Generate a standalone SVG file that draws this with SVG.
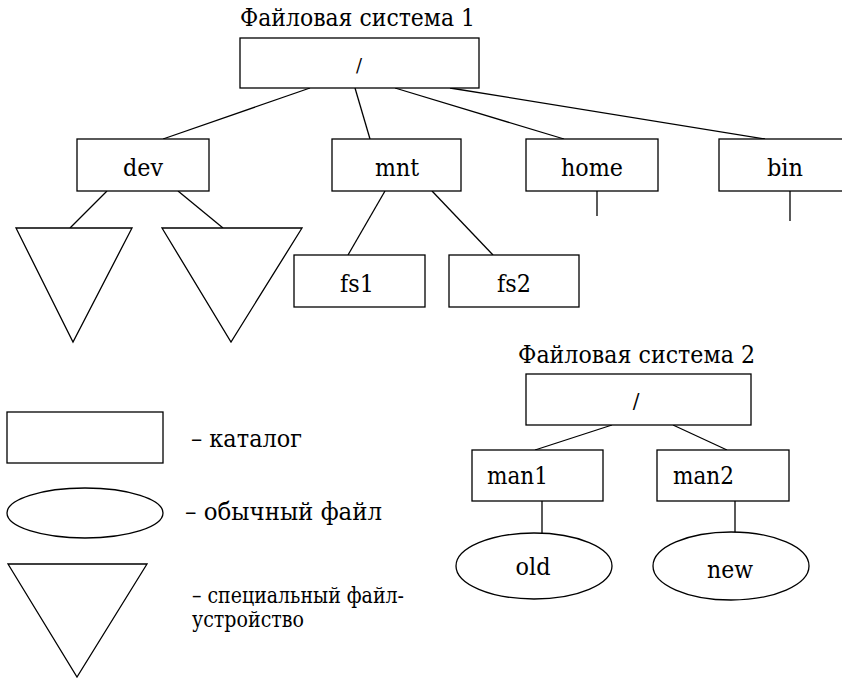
<svg xmlns="http://www.w3.org/2000/svg" width="842" height="678" viewBox="0 0 842 678">
  <style>
    .box { fill: #fff; stroke: #000; stroke-width: 1.3; }
    .shape { fill: #fff; stroke: #000; stroke-width: 1.3; }
    .link { stroke: #000; stroke-width: 1.3; fill: none; }
    .t { font-family: 'DejaVu Serif', 'Liberation Serif', serif; font-size: 25px; fill: #000; }
    .s { font-size: 23px; }
    .m { font-size: 24px; }
    .c { text-anchor: middle; }
  </style>
  <rect width="842" height="678" fill="#fff"/>

  <!-- connectors -->
  <g id="connectors" class="link">
    <line x1="310" y1="88" x2="163" y2="139"/>
    <line x1="355" y1="88" x2="370" y2="139"/>
    <line x1="395" y1="88" x2="564" y2="139"/>
    <line x1="450" y1="88" x2="765" y2="139"/>
    <line x1="107" y1="191" x2="70" y2="228"/>
    <line x1="178" y1="191" x2="223" y2="228"/>
    <line x1="385" y1="191" x2="348" y2="255"/>
    <line x1="432" y1="191" x2="493" y2="255"/>
    <line x1="597" y1="191" x2="597" y2="216"/>
    <line x1="790" y1="191" x2="790" y2="221"/>
    <line x1="612" y1="425" x2="535" y2="450"/>
    <line x1="673" y1="425" x2="727" y2="450"/>
    <line x1="542" y1="501" x2="542" y2="533"/>
    <line x1="735" y1="501" x2="735" y2="533"/>
  </g>

  <!-- file system 1 -->
  <text x="357.5" y="26" class="t c" textLength="235" lengthAdjust="spacingAndGlyphs">Файловая система 1</text>
  <g id="root1">
    <rect class="box" x="240" y="38" width="239" height="50"/>
    <text x="359" y="72" class="t c" style="font-size:18px">/</text>
  </g>
  <g id="dev">
    <rect class="box" x="77" y="139" width="132" height="52"/>
    <text x="143" y="176" class="t c" textLength="40" lengthAdjust="spacingAndGlyphs">dev</text>
  </g>
  <g id="dev-a">
    <polygon class="shape" points="16,228 132,228 73,342"/>
  </g>
  <g id="dev-b">
    <polygon class="shape" points="162,228 302,228 231,342"/>
  </g>
  <g id="mnt">
    <rect class="box" x="332" y="139" width="129" height="52"/>
    <text x="397" y="176" class="t c" textLength="44" lengthAdjust="spacingAndGlyphs">mnt</text>
  </g>
  <g id="fs1">
    <rect class="box" x="294" y="255" width="131" height="52"/>
    <text x="357" y="292" class="t c" textLength="34" lengthAdjust="spacingAndGlyphs">fs1</text>
  </g>
  <g id="fs2">
    <rect class="box" x="449" y="255" width="130" height="52"/>
    <text x="514" y="292" class="t c" textLength="34" lengthAdjust="spacingAndGlyphs">fs2</text>
  </g>
  <g id="home">
    <rect class="box" x="526" y="139" width="132" height="52"/>
    <text x="592" y="176" class="t c" textLength="62" lengthAdjust="spacingAndGlyphs">home</text>
  </g>
  <g id="bin">
    <rect class="box" x="719" y="139" width="140" height="52"/>
    <text x="785" y="176" class="t c" textLength="36" lengthAdjust="spacingAndGlyphs">bin</text>
  </g>

  <!-- file system 2 -->
  <text x="636.5" y="363" class="t c" textLength="237" lengthAdjust="spacingAndGlyphs">Файловая система 2</text>
  <g id="root2">
    <rect class="box" x="526" y="374" width="225" height="51"/>
    <text x="636" y="408" class="t c" style="font-size:20px">/</text>
  </g>
  <g id="man1">
    <rect class="box" x="472" y="450" width="131" height="51"/>
    <text x="487" y="484" class="t" textLength="61" lengthAdjust="spacingAndGlyphs">man1</text>
  </g>
  <g id="man2">
    <rect class="box" x="657" y="450" width="132" height="51"/>
    <text x="673" y="484" class="t" textLength="61" lengthAdjust="spacingAndGlyphs">man2</text>
  </g>
  <g id="old">
    <ellipse class="shape" cx="534" cy="566" rx="78" ry="33"/>
    <text x="533" y="575" class="t c" textLength="35" lengthAdjust="spacingAndGlyphs">old</text>
  </g>
  <g id="new">
    <ellipse class="shape" cx="731" cy="566" rx="78" ry="34"/>
    <text x="730" y="578" class="t c" textLength="46" lengthAdjust="spacingAndGlyphs">new</text>
  </g>

  <!-- legend -->
  <g id="legend-dir">
    <rect class="box" x="7" y="412" width="156" height="51"/>
    <text x="191" y="447" class="t" textLength="111" lengthAdjust="spacingAndGlyphs">– каталог</text>
  </g>
  <g id="legend-file">
    <ellipse class="shape" cx="85" cy="513" rx="78" ry="25"/>
    <text x="185" y="520" class="t m" textLength="197" lengthAdjust="spacingAndGlyphs">– обычный файл</text>
  </g>
  <g id="legend-device">
    <polygon class="shape" points="8,564 147,564 77,677"/>
    <text x="192" y="603" class="t s" textLength="212" lengthAdjust="spacingAndGlyphs">– специальный файл-</text>
    <text x="192" y="627" class="t s" textLength="112" lengthAdjust="spacingAndGlyphs">устройство</text>
  </g>
</svg>
